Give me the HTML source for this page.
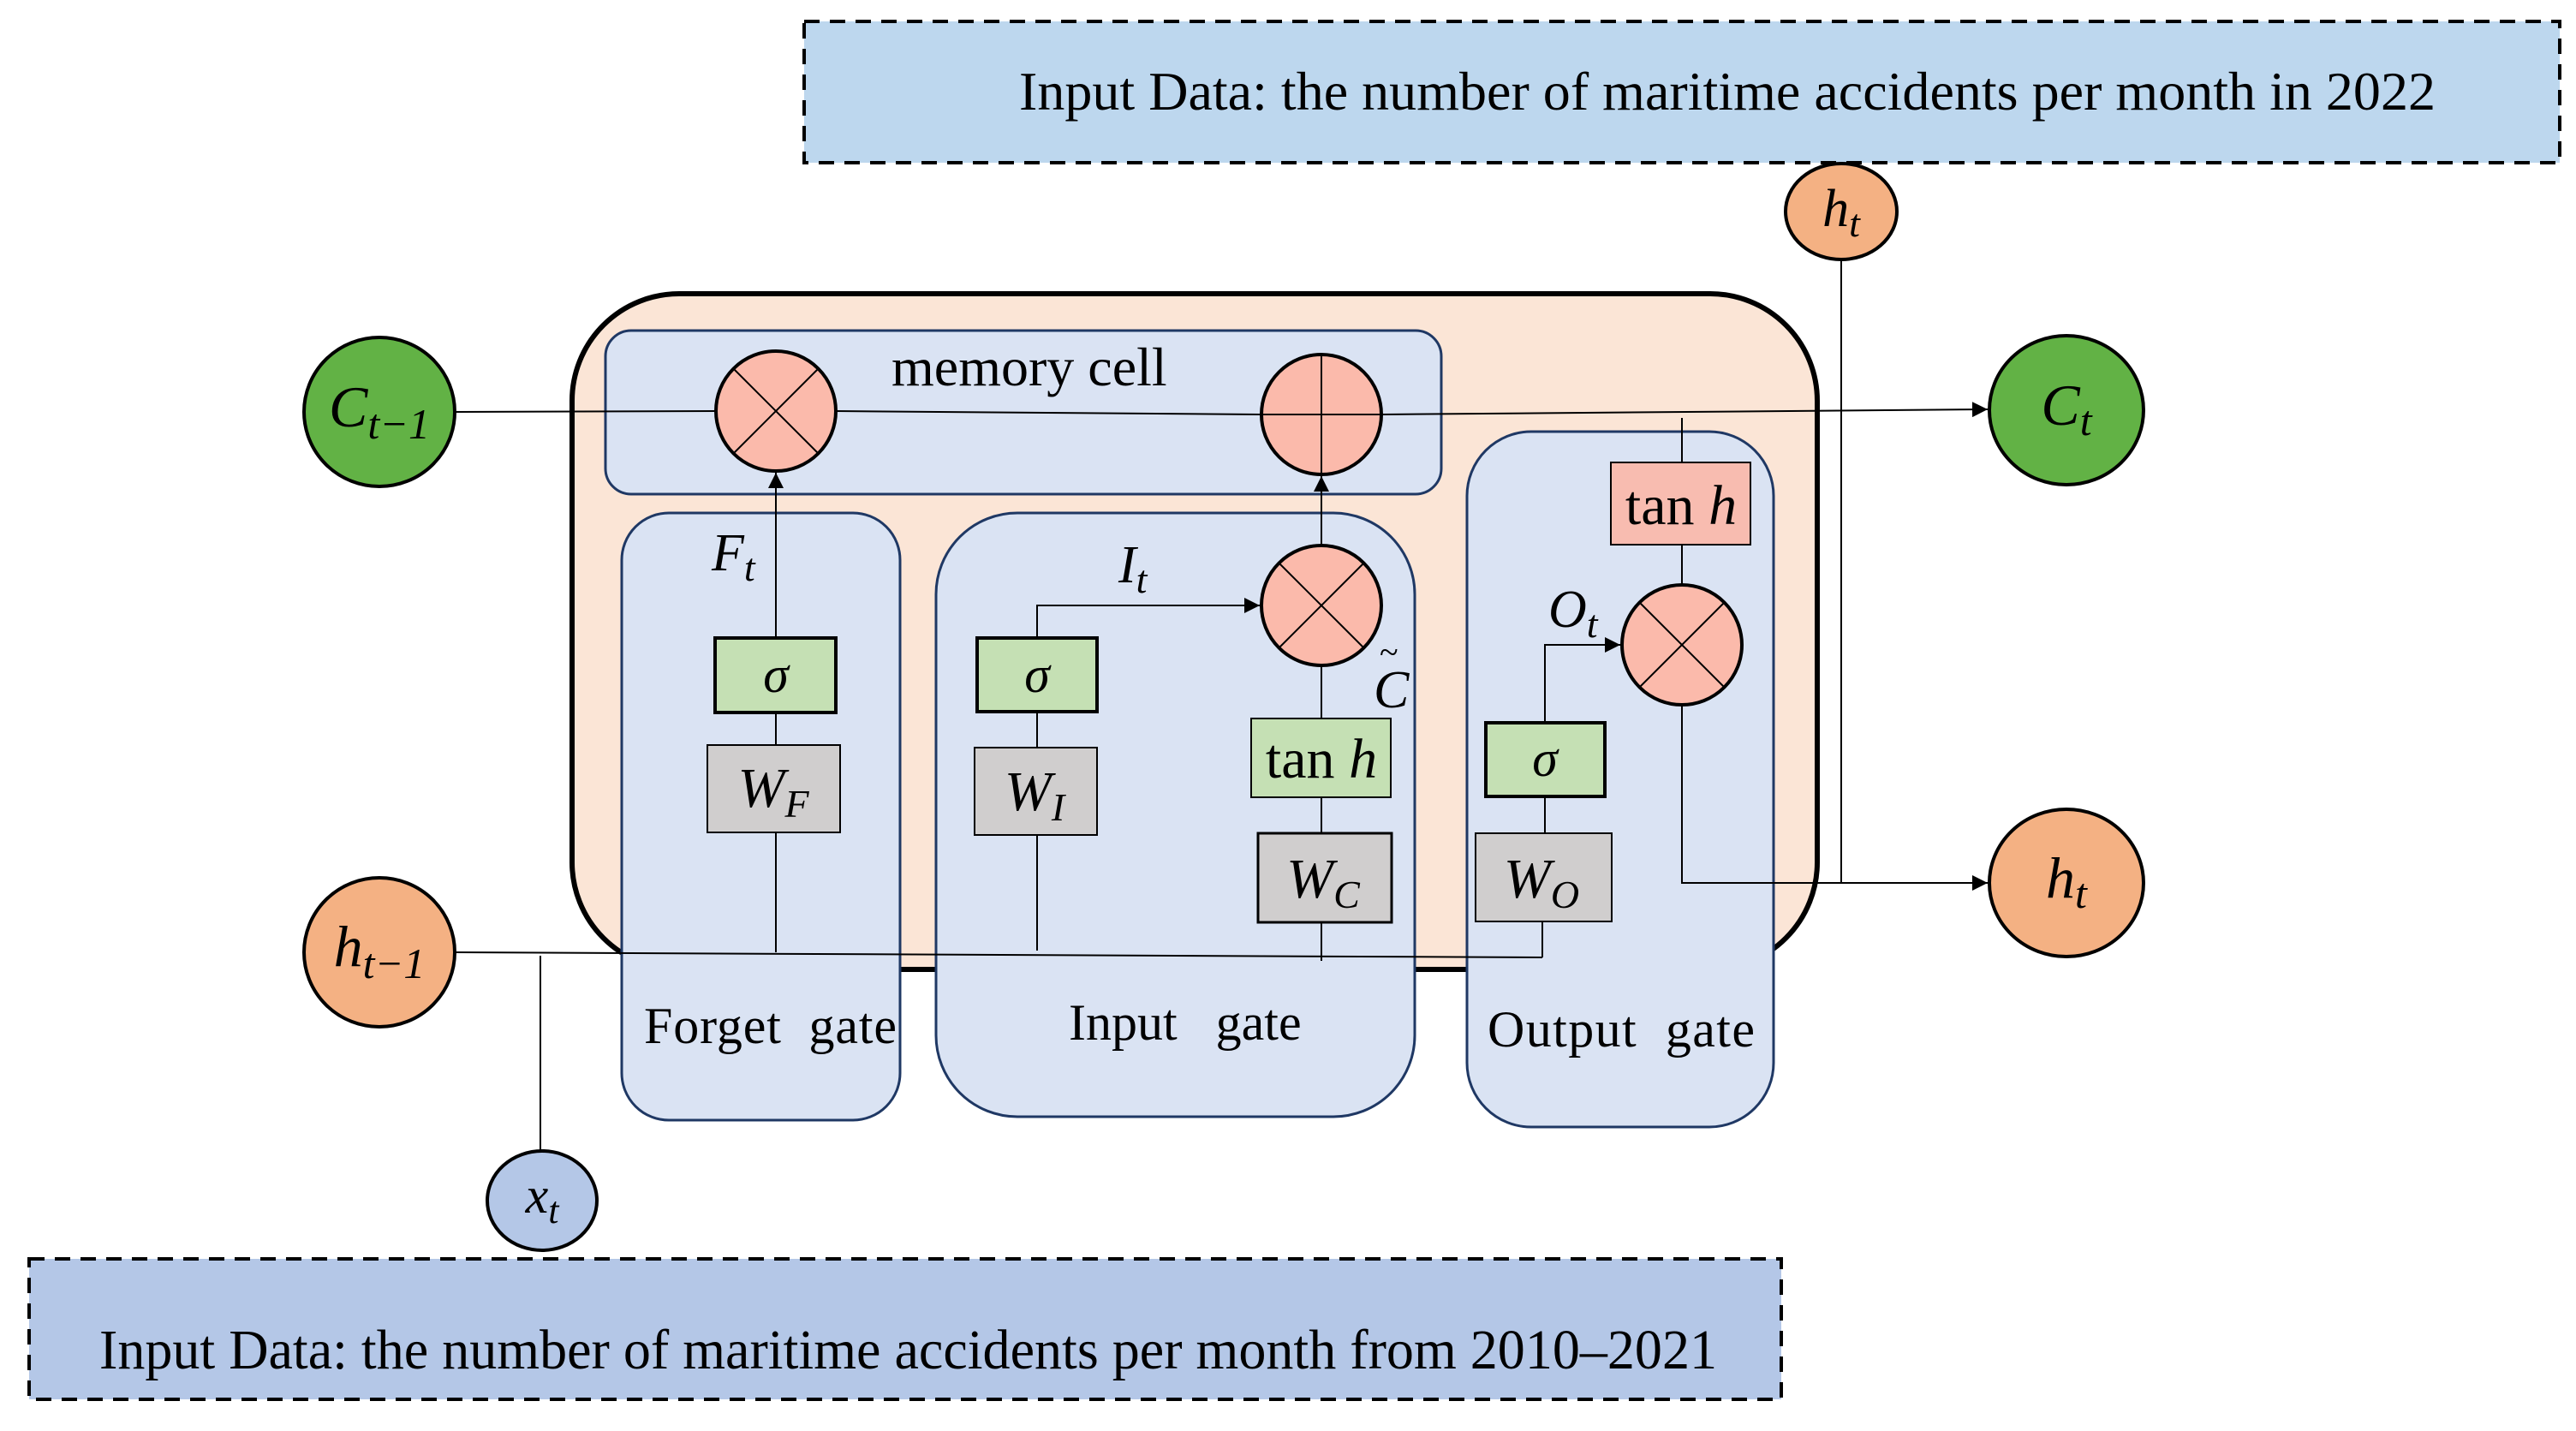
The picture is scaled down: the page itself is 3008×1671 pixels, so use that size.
<!DOCTYPE html>
<html><head><meta charset="utf-8"><style>html,body{margin:0;padding:0;background:#fff}svg{display:block}</style></head>
<body>
<svg width="3008" height="1671" viewBox="0 0 3008 1671" xmlns="http://www.w3.org/2000/svg" font-family="'Liberation Serif', serif">
<defs>
<marker id="ar2" viewBox="0 0 10 10" refX="10" refY="5" markerWidth="18" markerHeight="18" markerUnits="userSpaceOnUse" orient="auto"><path d="M0,0 L10,5 L0,10 z" fill="#000"/></marker>
</defs>

<rect x="939" y="25" width="2050" height="165" fill="#bdd7ee" stroke="#000" stroke-width="4" stroke-dasharray="18,12"/>
<text x="1190" y="128" font-size="64" textLength="1654" lengthAdjust="spacingAndGlyphs">Input Data: the number of maritime accidents per month in 2022</text>

<rect x="34" y="1470" width="2046" height="164" fill="#b4c7e7" stroke="#000" stroke-width="4" stroke-dasharray="18,12"/>
<text x="116" y="1598" font-size="66" textLength="1889" lengthAdjust="spacingAndGlyphs">Input Data: the number of maritime accidents per month from 2010–2021</text>

<rect x="668" y="343" width="1454" height="789" rx="125" fill="#fbe5d6" stroke="#000" stroke-width="6"/>

<rect x="707" y="386" width="976" height="191" rx="30" fill="#dae3f3" stroke="#1f3864" stroke-width="3"/>
<text x="1041" y="450" font-size="64">memory cell</text>

<rect x="726" y="599" width="325" height="709" rx="55" fill="#dae3f3" stroke="#1f3864" stroke-width="3"/>
<rect x="1093" y="599" width="559" height="705" rx="95" fill="#dae3f3" stroke="#1f3864" stroke-width="3"/>
<rect x="1713" y="504" width="358" height="812" rx="75" fill="#dae3f3" stroke="#1f3864" stroke-width="3"/>
<text x="752" y="1218" font-size="60" textLength="295" xml:space="preserve">Forget  gate</text>
<text x="1248" y="1214" font-size="60" xml:space="preserve">Input   gate</text>
<text x="1737" y="1222" font-size="60" textLength="312" xml:space="preserve">Output  gate</text>

<g stroke="#000" stroke-width="2" fill="none">
<line x1="531" y1="481" x2="836" y2="480"/>
<line x1="976" y1="480" x2="1473" y2="484"/>
<line x1="1613" y1="484" x2="2321" y2="478" marker-end="url(#ar2)"/>
<line x1="531" y1="1112" x2="1801" y2="1118"/>
<line x1="631" y1="1116" x2="631" y2="1344"/>
<line x1="906" y1="972" x2="906" y2="1112"/>
<line x1="906" y1="832" x2="906" y2="870"/>
<line x1="906" y1="745" x2="906" y2="552" marker-end="url(#ar2)"/>
<line x1="1211" y1="975" x2="1211" y2="1110"/>
<line x1="1211" y1="831" x2="1211" y2="873"/>
<polyline points="1211,745 1211,707 1471,707" marker-end="url(#ar2)"/>
<line x1="1543" y1="637" x2="1543" y2="556" marker-end="url(#ar2)"/>
<line x1="1543" y1="777" x2="1543" y2="839"/>
<line x1="1543" y1="931" x2="1543" y2="973"/>
<line x1="1543" y1="1077" x2="1543" y2="1122"/>
<line x1="1801" y1="1076" x2="1801" y2="1118"/>
<line x1="1804" y1="930" x2="1804" y2="973"/>
<polyline points="1804,844 1804,753 1892,753" marker-end="url(#ar2)"/>
<line x1="1964" y1="636" x2="1964" y2="683"/>
<line x1="1964" y1="540" x2="1964" y2="488"/>
<polyline points="1964,823 1964,1031 2321,1031" marker-end="url(#ar2)"/>
<line x1="2150" y1="304" x2="2150" y2="1031"/>
</g>

<g stroke="#000" stroke-width="4" fill="#fbbaab">
<circle cx="906" cy="480" r="70"/>
<circle cx="1543" cy="484" r="70"/>
<circle cx="1543" cy="707" r="70"/>
<circle cx="1964" cy="753" r="70"/>
</g>
<g stroke="#000" stroke-width="2">
<line x1="857" y1="431" x2="955" y2="529"/><line x1="955" y1="431" x2="857" y2="529"/>
<line x1="1543" y1="414" x2="1543" y2="554"/><line x1="1473" y1="484" x2="1613" y2="484"/>
<line x1="1494" y1="658" x2="1592" y2="756"/><line x1="1592" y1="658" x2="1494" y2="756"/>
<line x1="1915" y1="704" x2="2013" y2="802"/><line x1="2013" y1="704" x2="1915" y2="802"/>
</g>

<g stroke="#000" stroke-width="4">
<rect x="835" y="745" width="141" height="87" fill="#c5e0b4"/>
<rect x="1141" y="745" width="140" height="86" fill="#c5e0b4"/>
<rect x="1735" y="844" width="139" height="86" fill="#c5e0b4"/>
</g>
<g stroke="#000" stroke-width="2">
<rect x="826" y="870" width="155" height="102" fill="#d0cece"/>
<rect x="1138" y="873" width="143" height="102" fill="#d0cece"/>
<rect x="1461" y="839" width="163" height="92" fill="#c5e0b4"/>
<rect x="1469" y="973" width="156" height="104" fill="#d0cece" stroke-width="3"/>
<rect x="1723" y="973" width="159" height="103" fill="#d0cece"/>
<rect x="1881" y="540" width="163" height="96" fill="#f8bcb0"/>
</g>
<g font-size="60" text-anchor="middle">
<text x="906" y="808" font-style="italic">σ</text>
<text x="1211" y="808" font-style="italic">σ</text>
<text x="1804" y="906" font-style="italic">σ</text>
<text x="903" y="942" font-style="italic" font-size="66">W<tspan font-size="46" dy="12">F</tspan></text>
<text x="1208" y="946" font-style="italic" font-size="66">W<tspan font-size="46" dy="12">I</tspan></text>
<text x="1545" y="1048" font-style="italic" font-size="66">W<tspan font-size="46" dy="12">C</tspan></text>
<text x="1800" y="1048" font-style="italic" font-size="66">W<tspan font-size="46" dy="12">O</tspan></text>
<text x="1543" y="908" font-size="66">tan <tspan font-style="italic">h</tspan></text>
<text x="1963" y="612" font-size="66">tan <tspan font-style="italic">h</tspan></text>
</g>
<g font-style="italic" font-size="62">
<text x="831" y="666">F<tspan font-size="46" dy="12">t</tspan></text>
<text x="1306" y="680">I<tspan font-size="46" dy="12">t</tspan></text>
<text x="1808" y="732">O<tspan font-size="46" dy="12">t</tspan></text>
<text x="1604" y="826">C</text>
<text x="1611" y="775" font-size="40" font-style="normal">~</text>
</g>

<g stroke="#000" stroke-width="4">
<ellipse cx="443" cy="481" rx="88" ry="87" fill="#62b245"/>
<ellipse cx="443" cy="1112" rx="88" ry="87" fill="#f4b183"/>
<ellipse cx="633" cy="1402" rx="64" ry="58" fill="#b4c7e7"/>
<ellipse cx="2413" cy="479" rx="90" ry="87" fill="#62b245"/>
<ellipse cx="2413" cy="1031" rx="90" ry="86" fill="#f4b183"/>
<ellipse cx="2150" cy="247" rx="65" ry="56" fill="#f4b183"/>
</g>
<g font-style="italic" font-size="68" text-anchor="middle">
<text x="443" y="498">C<tspan font-size="50" dy="14">t−1</tspan></text>
<text x="443" y="1128">h<tspan font-size="50" dy="14">t−1</tspan></text>
<text x="633" y="1416" font-size="60">x<tspan font-size="44" dy="12">t</tspan></text>
<text x="2413" y="496">C<tspan font-size="50" dy="12">t</tspan></text>
<text x="2413" y="1048">h<tspan font-size="50" dy="12">t</tspan></text>
<text x="2150" y="264" font-size="62">h<tspan font-size="46" dy="12">t</tspan></text>
</g>
</svg>
</body></html>
